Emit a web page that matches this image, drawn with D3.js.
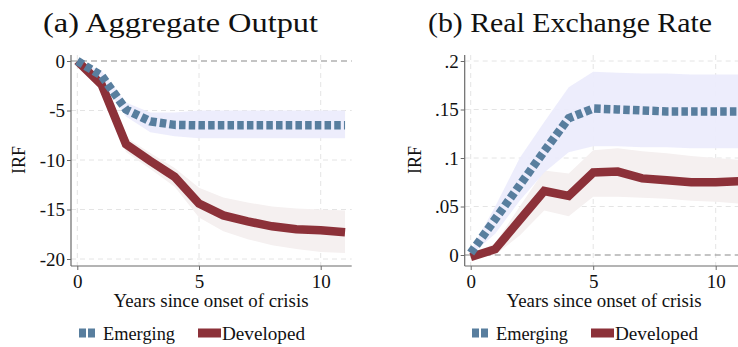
<!DOCTYPE html>
<html>
<head>
<meta charset="utf-8">
<script src="https://cdn.jsdelivr.net/npm/d3@7"></script>
<style>
  html, body { margin: 0; padding: 0; background: #fff; }
  svg { display: block; }
</style>
</head>
<body>
<svg id="chart" width="738" height="347"></svg>
<script>
// Horizon in years since the onset of the crisis
const years = [0, 1, 2, 3, 4, 5, 6, 7, 8, 9, 10, 11];

// (a) Aggregate output responses with confidence bands
const outputEmerging   = [0, -1.5, -4.9, -6.1, -6.45, -6.5, -6.5, -6.5, -6.5, -6.5, -6.5, -6.5];
const outputEmergingLo = [0, -2.0, -5.6, -7.2, -7.6, -7.8, -7.8, -7.8, -7.8, -7.8, -7.8, -7.8];
const outputEmergingHi = [0, -1.0, -4.2, -5.2, -5.2, -5.0, -5.0, -5.0, -5.0, -5.0, -5.0, -5.0];
const outputDeveloped   = [0, -2.4, -8.4, -10.1, -11.7, -14.4, -15.6, -16.2, -16.7, -17.0, -17.1, -17.3];
const outputDevelopedLo = [0, -2.8, -9.2, -10.9, -12.7, -15.8, -17.2, -18.0, -18.6, -19.0, -19.3, -19.4];
const outputDevelopedHi = [0, -2.0, -7.7, -9.3, -10.8, -12.8, -13.8, -14.3, -14.7, -14.9, -15.0, -15.1];

// (b) Real exchange rate responses with confidence bands
const rerEmerging   = [0.002, 0.037, 0.072, 0.107, 0.141, 0.151, 0.150, 0.149, 0.148, 0.148, 0.148, 0.148];
const rerEmergingLo = [0.0, 0.022, 0.056, 0.085, 0.106, 0.112, 0.112, 0.111, 0.111, 0.110, 0.110, 0.110];
const rerEmergingHi = [0.004, 0.050, 0.100, 0.137, 0.173, 0.189, 0.188, 0.187, 0.187, 0.186, 0.186, 0.186];
const rerDeveloped   = [-0.002, 0.006, 0.036, 0.066, 0.061, 0.085, 0.086, 0.079, 0.077, 0.075, 0.075, 0.076];
const rerDevelopedLo = [-0.004, 0.0, 0.020, 0.046, 0.040, 0.060, 0.060, 0.059, 0.058, 0.056, 0.055, 0.053];
const rerDevelopedHi = [0.0, 0.012, 0.050, 0.087, 0.084, 0.108, 0.110, 0.107, 0.105, 0.102, 0.100, 0.098];

// Axis ticks and labels
const xTicks = [0, 5, 10];
const outputTicks = [0, -5, -10, -15, -20];
const outputTickLabels = ["0", "-5", "-10", "-15", "-20"];
const rerTicks = [0, 0.05, 0.1, 0.15, 0.2];
const rerTickLabels = ["0", ".05", ".1", ".15", ".2"];

const titles = ["(a) Aggregate Output", "(b) Real Exchange Rate"];
const seriesNames = ["Emerging", "Developed"];
const xTitle = "Years since onset of crisis";
const yTitle = "IRF";

const FONT = '"Liberation Serif", "DejaVu Serif", serif';

const colors = {
  emerging: "#587e9e",
  developed: "#8c3139",
  emergingBand: "#ececfc",
  developedBand: "#f5f0f0",
  grid: "#e4e4e4",
  axis: "#6a6a6a",
  zero: "#8a8a8a",
  text: "#111"
};

const svg = d3.select("#chart");

const panels = [
  {
    title: titles[0], titleWidth: 275,
    xRange: [77.3, 320.7], yRange: [259, 61], yDomain: [-20, 0],
    axisX: 71, top: 55, bottom: 266, right: 351.7,
    ticks: outputTicks, tickLabels: outputTickLabels,
    emerging: outputEmerging, emergingLo: outputEmergingLo, emergingHi: outputEmergingHi,
    developed: outputDeveloped, developedLo: outputDevelopedLo, developedHi: outputDevelopedHi,
    titleX: 180.5, yTitleX: 19, xTitleX: 211, legendX: 79
  },
  {
    title: titles[1], titleWidth: 284,
    xRange: [470.7, 715.7], yRange: [255, 61], yDomain: [0, 0.2],
    axisX: 464.7, top: 55, bottom: 266, right: 747,
    ticks: rerTicks, tickLabels: rerTickLabels,
    emerging: rerEmerging, emergingLo: rerEmergingLo, emergingHi: rerEmergingHi,
    developed: rerDeveloped, developedLo: rerDevelopedLo, developedHi: rerDevelopedHi,
    titleX: 570, yTitleX: 415, xTitleX: 604, legendX: 472
  }
];

function label(sel, size) {
  return sel.style("font-family", FONT).style("font-size", size + "px").attr("fill", colors.text);
}

panels.forEach(p => {
  const g = svg.append("g");
  const x = d3.scaleLinear().domain([0, 10]).range(p.xRange);
  const y = d3.scaleLinear().domain(p.yDomain).range(p.yRange);

  // Title
  label(g.append("text"), 28)
    .attr("x", p.titleX).attr("y", 32)
    .attr("text-anchor", "middle")
    .attr("textLength", p.titleWidth).attr("lengthAdjust", "spacingAndGlyphs")
    .text(p.title);

  // Grid lines
  g.selectAll(".hgrid").data(p.ticks.filter(t => t !== 0)).enter()
    .append("line")
    .attr("x1", p.axisX).attr("x2", p.right)
    .attr("y1", d => y(d)).attr("y2", d => y(d))
    .attr("stroke", colors.grid).attr("stroke-width", 1)
    .attr("stroke-dasharray", "5,4");
  g.selectAll(".vgrid").data(xTicks).enter()
    .append("line")
    .attr("x1", d => x(d)).attr("x2", d => x(d))
    .attr("y1", p.top).attr("y2", p.bottom)
    .attr("stroke", colors.grid).attr("stroke-width", 1)
    .attr("stroke-dasharray", "5,4");

  // Confidence bands
  const band = d3.area()
    .x((d, i) => x(years[i]))
    .y0(d => y(d[0]))
    .y1(d => y(d[1]));
  g.append("path")
    .datum(p.developedLo.map((v, i) => [v, p.developedHi[i]]))
    .attr("d", band).attr("fill", colors.developedBand);
  g.append("path")
    .datum(p.emergingLo.map((v, i) => [v, p.emergingHi[i]]))
    .attr("d", band).attr("fill", colors.emergingBand).attr("fill-opacity", 0.92);

  // Zero reference line
  g.append("line")
    .attr("x1", p.axisX).attr("x2", p.right)
    .attr("y1", y(0)).attr("y2", y(0))
    .attr("stroke", colors.zero).attr("stroke-width", 1.2)
    .attr("stroke-dasharray", "6,4");

  // Response lines
  const line = d3.line().x((d, i) => x(years[i])).y(d => y(d));
  g.append("path").datum(p.developed).attr("d", line)
    .attr("fill", "none").attr("stroke", colors.developed)
    .attr("stroke-width", 8.5).attr("stroke-linejoin", "miter");
  g.append("path").datum(p.emerging).attr("d", line)
    .attr("fill", "none").attr("stroke", colors.emerging)
    .attr("stroke-width", 8.5).attr("stroke-dasharray", "6.5,3.2")
    .attr("stroke-linejoin", "miter");

  // Left axis
  const yAxis = d3.axisLeft(y).tickValues(p.ticks)
    .tickFormat((d, i) => p.tickLabels[i]).tickSize(4).tickPadding(2);
  const ya = g.append("g").attr("transform", `translate(${p.axisX},0)`).call(yAxis)
    .attr("font-family", null).attr("font-size", null);
  ya.select(".domain").remove();
  ya.selectAll(".tick line").attr("stroke", colors.axis);
  label(ya.selectAll(".tick text"), 19);
  g.append("line").attr("x1", p.axisX).attr("x2", p.axisX)
    .attr("y1", p.top).attr("y2", p.bottom).attr("stroke", colors.axis).attr("stroke-width", 1.2);

  // Bottom axis
  const xAxis = d3.axisBottom(x).tickValues(xTicks).tickSize(4).tickPadding(5);
  const xa = g.append("g").attr("transform", `translate(0,${p.bottom})`).call(xAxis)
    .attr("font-family", null).attr("font-size", null);
  xa.select(".domain").remove();
  xa.selectAll(".tick line").attr("stroke", colors.axis);
  label(xa.selectAll(".tick text"), 19);
  g.append("line").attr("x1", p.axisX).attr("x2", p.right)
    .attr("y1", p.bottom).attr("y2", p.bottom).attr("stroke", colors.axis).attr("stroke-width", 1.2);

  // Axis titles
  label(g.append("text"), 18).attr("x", p.xTitleX).attr("y", 306.5)
    .attr("text-anchor", "middle")
    .attr("textLength", 195).attr("lengthAdjust", "spacingAndGlyphs")
    .text(xTitle);
  label(g.append("text"), 18)
    .attr("transform", `translate(${p.yTitleX + 6},160) rotate(-90)`)
    .attr("text-anchor", "middle").text(yTitle);

  // Legend
  const lg = g.append("g").attr("transform", `translate(${p.legendX},0)`);
  lg.append("line").attr("x1", 0).attr("x2", 16).attr("y1", 333).attr("y2", 333)
    .attr("stroke", colors.emerging).attr("stroke-width", 9).attr("stroke-dasharray", "7,2");
  label(lg.append("text"), 18).attr("x", 24).attr("y", 339.5)
    .attr("textLength", 72).attr("lengthAdjust", "spacingAndGlyphs").text(seriesNames[0]);
  lg.append("rect").attr("x", 119).attr("y", 328.5).attr("width", 23).attr("height", 9)
    .attr("fill", colors.developed);
  label(lg.append("text"), 18).attr("x", 143).attr("y", 339.5)
    .attr("textLength", 83).attr("lengthAdjust", "spacingAndGlyphs").text(seriesNames[1]);
});
</script>
</body>
</html>
